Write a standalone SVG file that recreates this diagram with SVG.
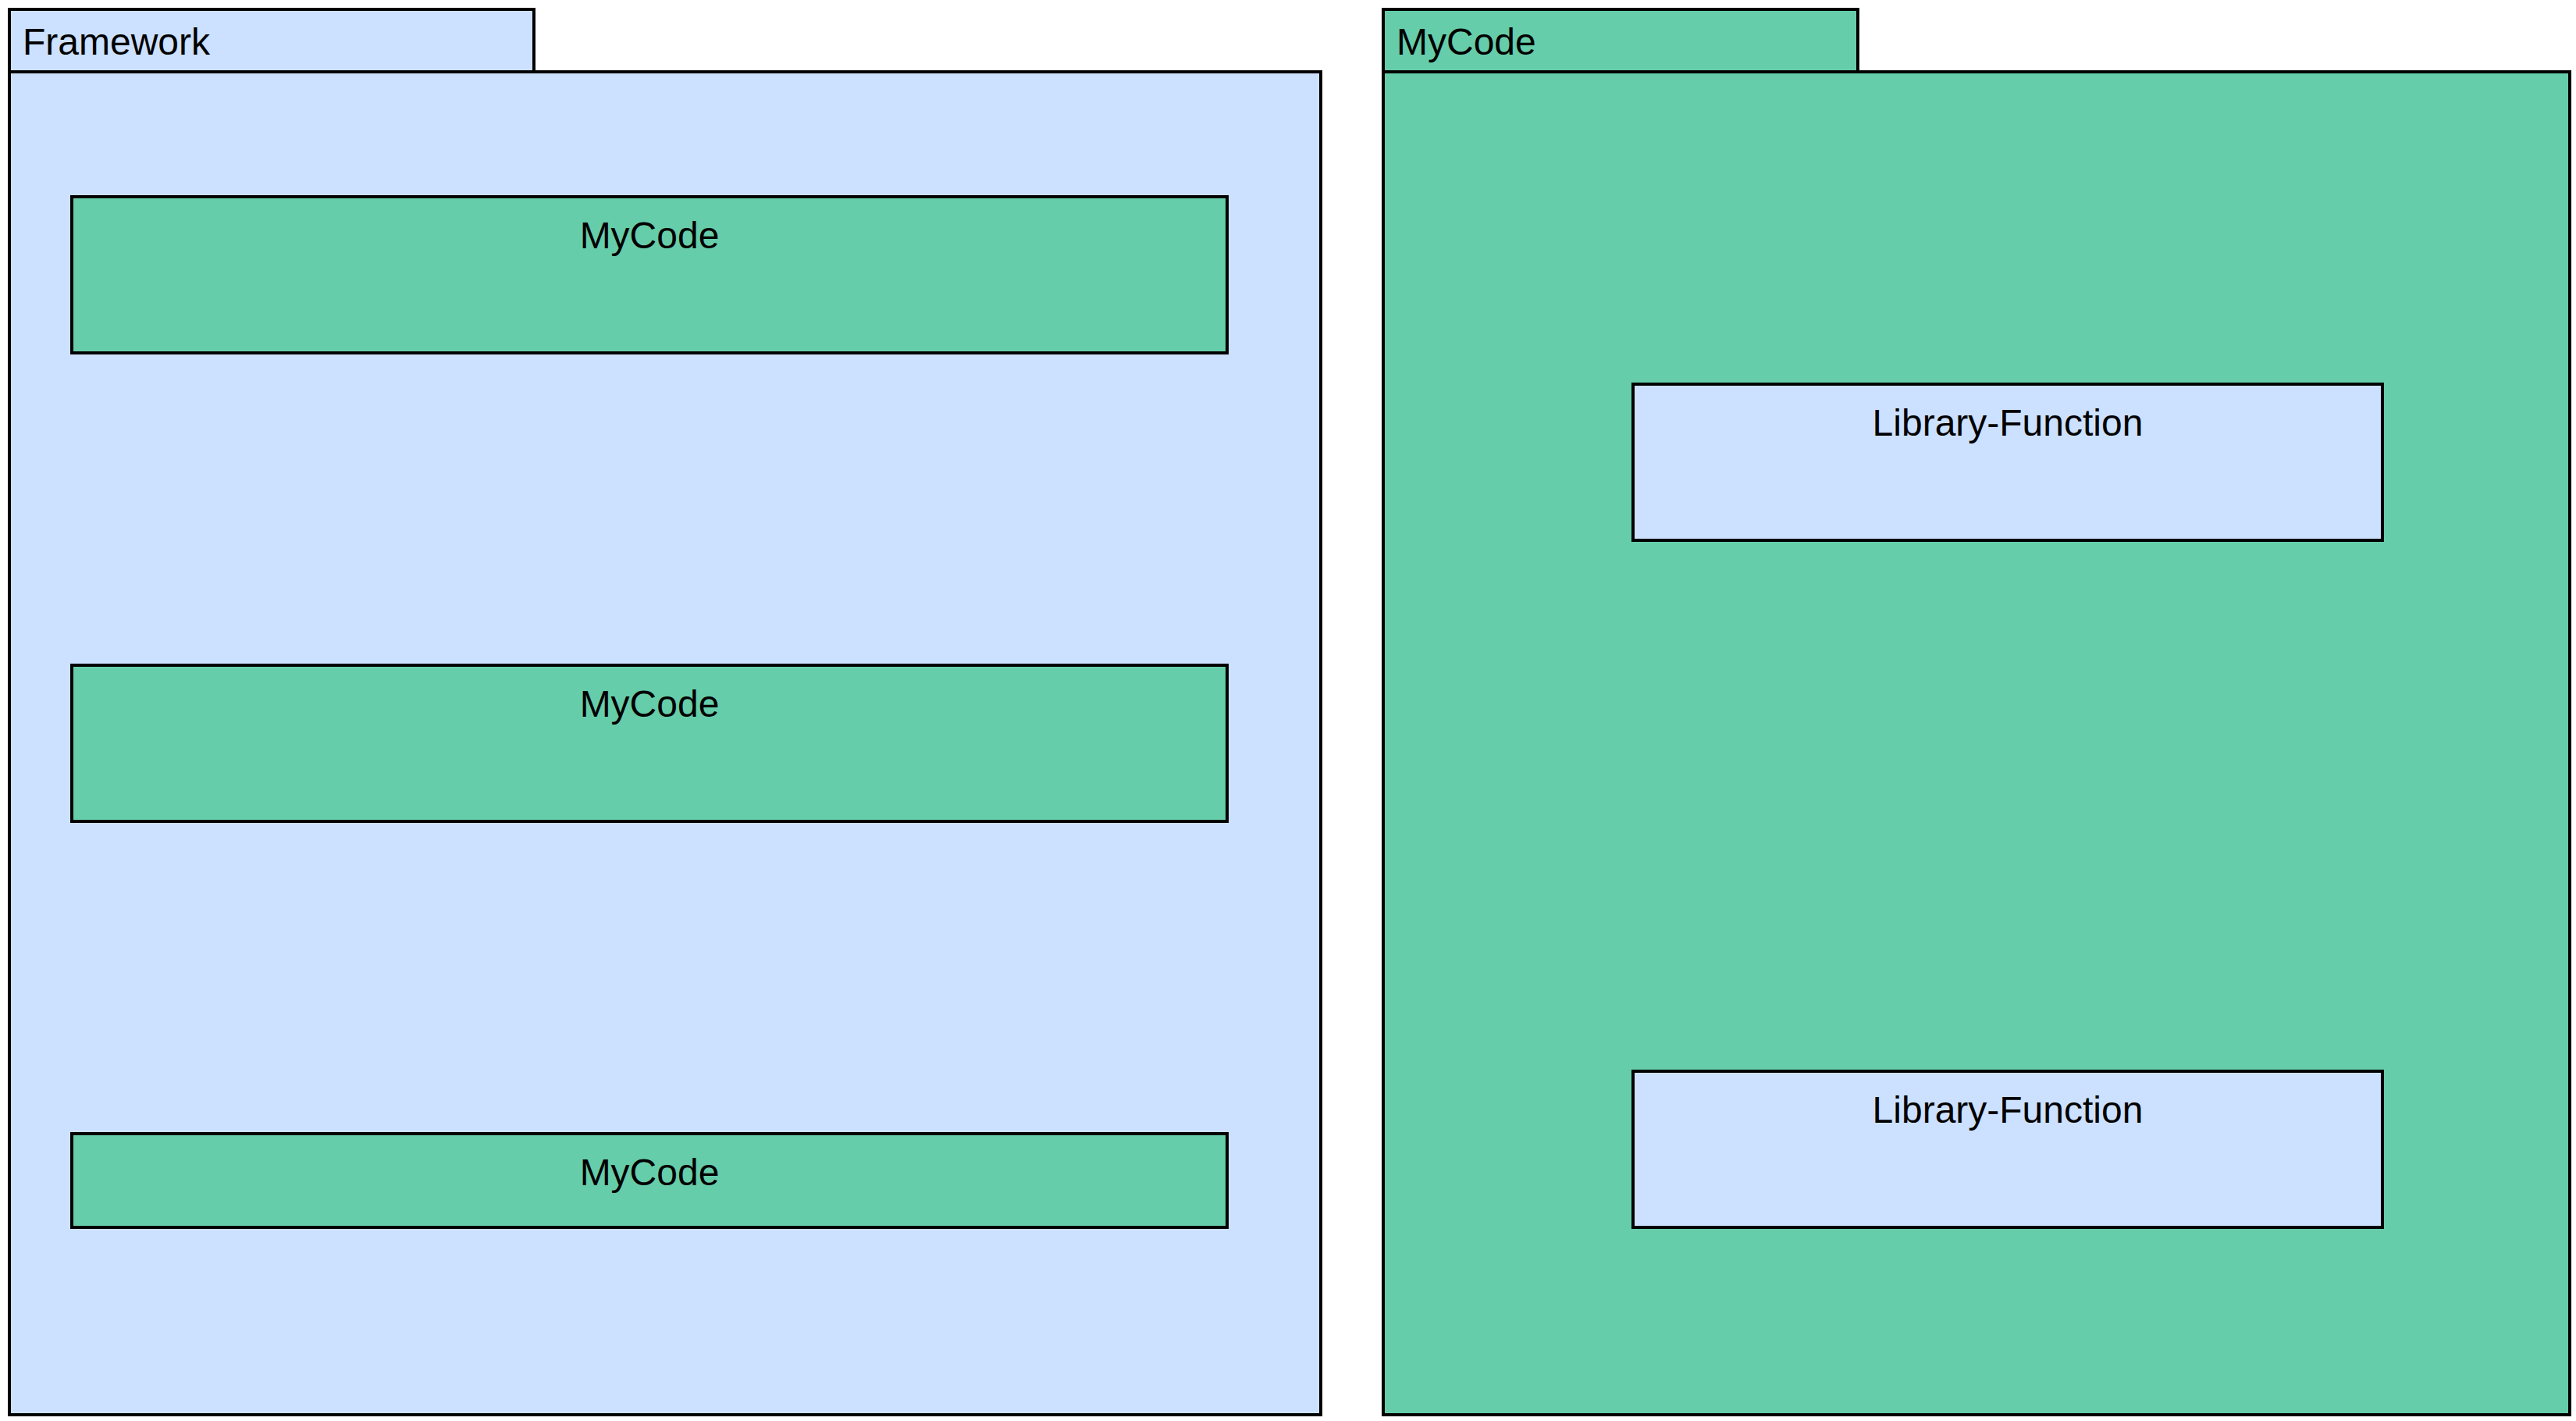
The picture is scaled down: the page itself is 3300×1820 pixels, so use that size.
<svg xmlns="http://www.w3.org/2000/svg" width="3300" height="1820" viewBox="0 0 3300 1820">
<style>
.blue{fill:#cce0ff;stroke:#000;stroke-width:4}
.green{fill:#66cdaa;stroke:#000;stroke-width:4}
text{font-family:"Liberation Sans",Arial,sans-serif;font-size:48px;fill:#000}
.c{text-anchor:middle}
</style>
<rect width="3300" height="1820" fill="#fff"/>
<g id="framework">
<rect class="blue" x="12" y="12" width="672" height="80"/>
<rect class="blue" x="12" y="92" width="1680" height="1720"/>
<text x="29" y="70">Framework</text>
</g>
<g id="mycode-1">
<rect class="green" x="92" y="252" width="1480" height="200"/>
<text class="c" x="832" y="318">MyCode</text>
</g>
<g id="mycode-2">
<rect class="green" x="92" y="852" width="1480" height="200"/>
<text class="c" x="832" y="918">MyCode</text>
</g>
<g id="mycode-3">
<rect class="green" x="92" y="1452" width="1480" height="120"/>
<text class="c" x="832" y="1518">MyCode</text>
</g>
<g id="mycode-package">
<rect class="green" x="1772" y="12" width="608" height="80"/>
<rect class="green" x="1772" y="92" width="1520" height="1720"/>
<text x="1789" y="70">MyCode</text>
</g>
<g id="library-function-1">
<rect class="blue" x="2092" y="492" width="960" height="200"/>
<text class="c" x="2572" y="558">Library-Function</text>
</g>
<g id="library-function-2">
<rect class="blue" x="2092" y="1372" width="960" height="200"/>
<text class="c" x="2572" y="1438">Library-Function</text>
</g>
<g id="connectors"/>
</svg>
